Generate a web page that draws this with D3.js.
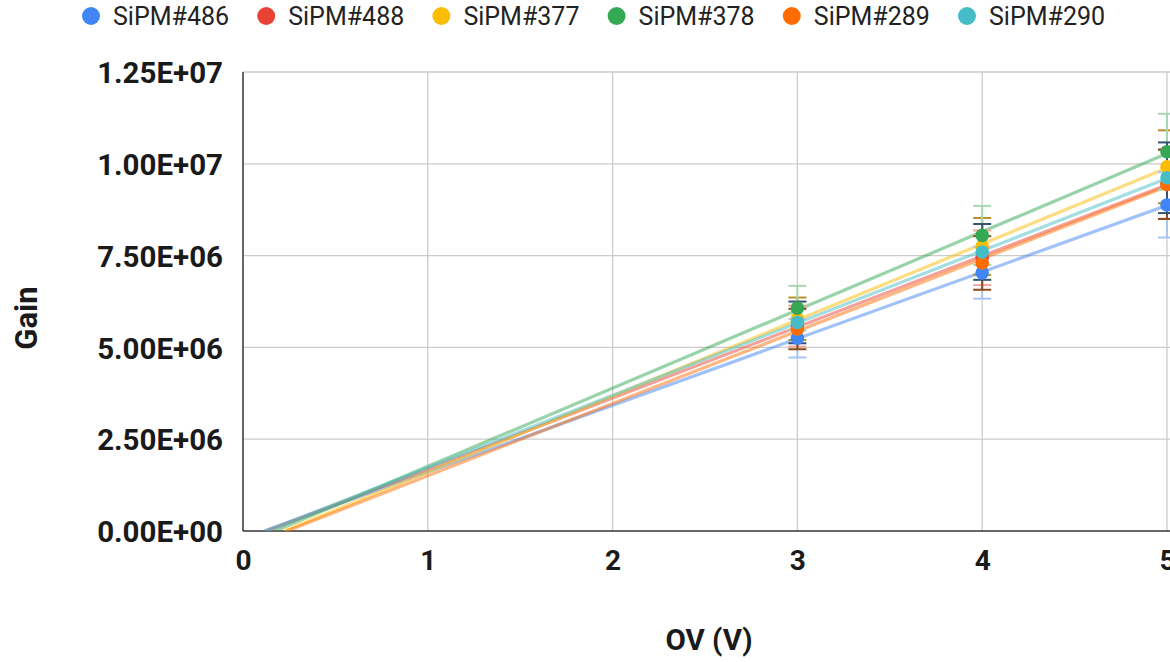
<!DOCTYPE html>
<html>
<head>
<meta charset="utf-8">
<script src="https://cdn.jsdelivr.net/npm/d3@7"></script>
<style>
  html, body { margin: 0; padding: 0; background: #ffffff; }
  svg { display: block; font-family: Roboto, "Noto Sans", Arial, sans-serif; }
</style>
</head>
<body>
<svg id="chart" width="1170" height="662"></svg>
<script>
// ---- data ----
const xValues = [3, 4, 5];
const seriesNames = ["SiPM#486", "SiPM#488", "SiPM#377", "SiPM#378", "SiPM#289", "SiPM#290"];
const sipm486 = [5.25e6, 7.03e6, 8.88e6];
const sipm488 = [5.58e6, 7.44e6, 9.45e6];
const sipm377 = [5.78e6, 7.75e6, 9.92e6];
const sipm378 = [6.07e6, 8.05e6, 1.033e7];
const sipm289 = [5.50e6, 7.30e6, 9.44e6];
const sipm290 = [5.68e6, 7.60e6, 9.62e6];
const errorPercent = 10;
const xTicks = [0, 1, 2, 3, 4, 5];
const yTicks = [0, 2.5e6, 5e6, 7.5e6, 1e7, 1.25e7];
const xTitle = "OV (V)";
const yTitle = "Gain";

// ---- styles ----
const seriesColors = ["#4285F4", "#EA4335", "#FBBC04", "#34A853", "#FF6D01", "#46BDC6"];
const errorColors  = ["#a9c4f5", "#f2a39c", "#b8912e", "#a6d6b2", "#8a4a22", "#34546e"];

const seriesValues = [sipm486, sipm488, sipm377, sipm378, sipm289, sipm290];
const series = seriesNames.map((name, i) => ({
  name, color: seriesColors[i], errColor: errorColors[i],
  points: xValues.map((x, j) => ({ x, y: seriesValues[i][j] }))
}));

const svg = d3.select("#chart");
const margin = { left: 243, top: 72 };
const plotW = 924, plotH = 459;

const x = d3.scaleLinear().domain([0, 5]).range([margin.left, margin.left + plotW]);
const y = d3.scaleLinear().domain([0, 1.25e7]).range([margin.top + plotH, margin.top]);

function sciFmt(v) {
  const s = d3.format(".2e")(v); // e.g. 1.25e+7
  const [m, e] = s.split("e");
  const sign = e[0] === "-" ? "-" : "+";
  const digits = e.replace(/[+-]/, "").padStart(2, "0");
  return m + "E" + sign + digits;
}

// grid
const grid = svg.append("g");
grid.selectAll("line.gy").data(yTicks.filter(d => d !== 0)).join("line")
  .attr("x1", margin.left).attr("x2", margin.left + plotW + 10)
  .attr("y1", d => y(d)).attr("y2", d => y(d))
  .attr("stroke", "#cccccc").attr("stroke-width", 1.3);
grid.selectAll("line.gx").data(xTicks.filter(d => d !== 0)).join("line")
  .attr("x1", d => x(d)).attr("x2", d => x(d))
  .attr("y1", margin.top).attr("y2", margin.top + plotH)
  .attr("stroke", "#cccccc").attr("stroke-width", 1.3);

// axes (labels via d3 axes)
const yAxis = svg.append("g").attr("transform", `translate(${margin.left},0)`)
  .call(d3.axisLeft(y).tickValues(yTicks).tickFormat(sciFmt).tickSize(0).tickPadding(20));
const xAxis = svg.append("g").attr("transform", `translate(0,${margin.top + plotH})`)
  .call(d3.axisBottom(x).tickValues(xTicks).tickFormat(d3.format("d")).tickSize(0).tickPadding(14));
[yAxis, xAxis].forEach(a => {
  a.select(".domain").remove();
  a.selectAll("text").attr("font-family", "Roboto, sans-serif")
    .attr("font-size", 29.5).attr("font-weight", "bold").attr("fill", "#1a1a1a");
});
xAxis.selectAll("text").attr("font-size", 28).attr("dy", "0.9em");
yAxis.selectAll("text").attr("dy", "0.36em");

// axis lines
svg.append("line").attr("x1", margin.left).attr("x2", margin.left)
  .attr("y1", margin.top).attr("y2", margin.top + plotH)
  .attr("stroke", "#333333").attr("stroke-width", 1.5);
svg.append("line").attr("x1", margin.left).attr("x2", margin.left + plotW + 10)
  .attr("y1", margin.top + plotH).attr("y2", margin.top + plotH)
  .attr("stroke", "#333333").attr("stroke-width", 1.5);

// clip for trendlines
svg.append("clipPath").attr("id", "plotClip").append("rect")
  .attr("x", margin.left).attr("y", margin.top)
  .attr("width", plotW + 10).attr("height", plotH);

// trendlines (least squares)
function fit(pts) {
  const mx = d3.mean(pts, p => p.x), my = d3.mean(pts, p => p.y);
  const sxy = d3.sum(pts, p => (p.x - mx) * (p.y - my));
  const sxx = d3.sum(pts, p => (p.x - mx) * (p.x - mx));
  const m = sxy / sxx;
  return { m, b: my - m * mx };
}
const trend = svg.append("g").attr("clip-path", "url(#plotClip)");
series.forEach(s => {
  const f = fit(s.points);
  const x0 = -f.b / f.m, x1 = 5.05;
  trend.append("line")
    .attr("x1", x(x0)).attr("y1", y(0))
    .attr("x2", x(x1)).attr("y2", y(f.m * x1 + f.b))
    .attr("stroke", s.color).attr("stroke-opacity", 0.5)
    .attr("stroke-width", 3.2).attr("stroke-linecap", "butt");
});

// error bars
const capHalf = 9;
const eb = svg.append("g");
series.forEach(s => {
  s.points.forEach(p => {
    const e = p.y * errorPercent / 100;
    const g = eb.append("g").attr("stroke", s.errColor).attr("stroke-width", 2);
    g.append("line").attr("x1", x(p.x)).attr("x2", x(p.x)).attr("y1", y(p.y - e)).attr("y2", y(p.y + e));
    g.append("line").attr("x1", x(p.x) - capHalf).attr("x2", x(p.x) + capHalf).attr("y1", y(p.y + e)).attr("y2", y(p.y + e));
    g.append("line").attr("x1", x(p.x) - capHalf).attr("x2", x(p.x) + capHalf).attr("y1", y(p.y - e)).attr("y2", y(p.y - e));
  });
});

// points
const pts = svg.append("g");
series.forEach(s => {
  pts.selectAll(null).data(s.points).join("circle")
    .attr("cx", d => x(d.x)).attr("cy", d => y(d.y)).attr("r", 6.8)
    .attr("fill", s.color);
});

// axis titles
svg.append("text").attr("x", 709).attr("y", 650).attr("text-anchor", "middle")
  .attr("font-size", 29.5).attr("font-weight", "bold").attr("fill", "#1a1a1a").text(xTitle);
svg.append("text").attr("transform", "translate(37,318) rotate(-90)").attr("text-anchor", "middle")
  .attr("font-size", 31).attr("font-weight", "bold").attr("fill", "#1a1a1a").text(yTitle);

// legend
const legend = svg.append("g");
series.forEach((s, i) => {
  const cx = 91 + i * 175.2;
  legend.append("circle").attr("cx", cx).attr("cy", 16).attr("r", 9).attr("fill", s.color);
  legend.append("text").attr("x", cx + 22).attr("y", 16).attr("dy", "0.35em")
    .attr("font-size", 25).attr("fill", "#222222").text(s.name);
});
</script>
</body>
</html>
